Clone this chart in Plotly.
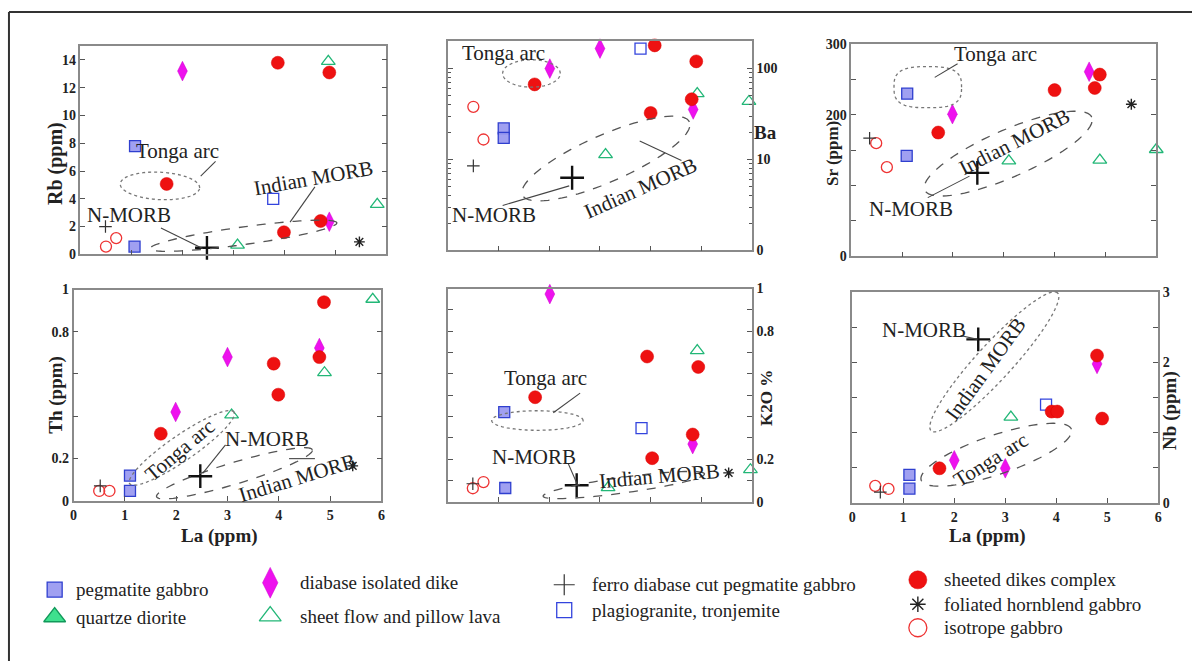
import math
import plotly.graph_objects as go

W, H = 1196, 669
SERIF = "Liberation Serif"

# ---------------- data (La in ppm on x; element on y; group code) ----------------
# groups: SD sheeted dikes, DI diabase dike, SF sheet flow/pillow lava, PG pegmatite gabbro,
#         PL plagiogranite, IG isotrope gabbro, FD ferro diabase, FH foliated hornblend gabbro, NM N-MORB
RB_LA  = [2.0, 3.87, 4.86, 4.88, 1.07, 1.69, 3.78, 5.82, 4.71, 4.88, 3.99, 0.49, 0.5, 0.7, 1.06, 3.08, 5.47, 2.48]
RB_VAL = [13.2, 13.8, 13.9, 13.1, 7.8, 5.07, 4.0, 3.6, 2.4, 2.35, 1.59, 2.0, 0.56, 1.17, 0.56, 0.66, 0.9, 0.47]
RB_GRP = ["DI", "SD", "SF", "SD", "PG", "SD", "PL", "SF", "SD", "DI", "SD", "FD", "IG", "IG", "PG", "SF", "FH", "NM"]

BA_LA  = [3.0, 3.8, 4.08, 4.9, 2.01, 1.71, 4.92, 5.94, 4.81, 4.84, 0.5, 4.0, 1.1, 1.1, 0.7, 3.11, 0.5, 2.45]
BA_VAL = [166, 166, 180, 120, 100, 67, 53, 43.5, 46, 35.5, 38, 32.5, 22, 17.3, 16.6, 11.3, 8.5, 6.3]
BA_GRP = ["DI", "PL", "SD", "SD", "DI", "SD", "SF", "SF", "SD", "DI", "IG", "SD", "PG", "PG", "IG", "SF", "FD", "NM"]

SR_LA  = [4.68, 4.89, 4.0, 4.79, 1.1, 5.51, 1.99, 1.71, 0.36, 0.49, 1.09, 3.1, 4.89, 6.0, 0.7, 2.48]
SR_VAL = [261, 257, 235, 238, 230, 215, 201, 175, 167, 160, 142, 135, 136, 151, 126, 118]
SR_GRP = ["DI", "SD", "SD", "SD", "PG", "FH", "DI", "SD", "FD", "IG", "PG", "SF", "SF", "SF", "IG", "NM"]

TH_LA  = [4.88, 5.83, 4.79, 3.0, 4.79, 3.9, 4.89, 3.99, 1.99, 3.08, 1.7, 1.1, 1.1, 5.44, 0.52, 0.5, 0.7, 2.47]
TH_VAL = [0.94, 0.954, 0.723, 0.68, 0.68, 0.649, 0.606, 0.502, 0.42, 0.406, 0.317, 0.119, 0.046, 0.165, 0.07, 0.046, 0.046, 0.116]
TH_GRP = ["SD", "SF", "DI", "DI", "SD", "SD", "SF", "SD", "DI", "SF", "SD", "PG", "PG", "FH", "FD", "IG", "IG", "NM"]

K2O_LA  = [2.01, 4.92, 3.93, 4.94, 1.72, 1.11, 3.82, 4.83, 4.83, 4.03, 5.97, 5.54, 0.49, 0.49, 0.7, 1.13, 3.16, 2.54]
K2O_VAL = [0.974, 0.709, 0.681, 0.632, 0.49, 0.42, 0.345, 0.315, 0.27, 0.204, 0.15, 0.135, 0.084, 0.063, 0.092, 0.064, 0.066, 0.077]
K2O_GRP = ["DI", "SF", "SD", "SD", "SD", "PG", "PL", "SD", "DI", "SD", "SF", "FH", "FD", "IG", "IG", "PG", "SF", "NM"]

NB_LA  = [4.8, 4.8, 3.8, 3.91, 4.02, 4.9, 3.11, 2.0, 3.0, 1.71, 1.12, 1.12, 0.45, 0.71, 0.55, 2.47]
NB_VAL = [2.10, 1.98, 1.40, 1.30, 1.30, 1.2, 1.22, 0.605, 0.49, 0.49, 0.395, 0.2, 0.24, 0.195, 0.15, 2.33]
NB_GRP = ["SD", "DI", "PL", "SD", "SD", "SD", "SF", "DI", "DI", "SD", "PG", "PG", "IG", "IG", "FD", "NM"]

LEGEND_CODES = ["PG", "SF_FILLED", "DI", "SF", "FD", "PL", "SD", "FH", "IG"]
LEGEND_LABELS = ["pegmatite gabbro", "quartze diorite", "diabase isolated dike", "sheet flow and pillow lava",
                 "ferro diabase cut pegmatite gabbro", "plagiogranite, tronjemite", "sheeted dikes complex",
                 "foliated hornblend gabbro", "isotrope gabbro"]

# ---------------- styles ----------------
STYLE = {
    "PG": dict(symbol="square", size=11, color="rgba(150,150,240,0.9)", line=dict(color="#2f3fcf", width=1.3)),
    "PL": dict(symbol="square-open", size=11, color="#3344dd", line=dict(color="#3344dd", width=1.3)),
    "SF": dict(symbol="triangle-up-open", size=12, color="#22b777", line=dict(color="#22b777", width=1.3)),
    "SF_FILLED": dict(symbol="triangle-up", size=12, color="#3ee08e", line=dict(color="#11995a", width=1.3)),
    "IG": dict(symbol="circle-open", size=11, color="#ee3333", line=dict(color="#ee3333", width=1.3)),
    "FD": dict(symbol="cross-thin", size=9, color="#333333", line=dict(color="#333333", width=1.2)),
    "FH": dict(symbol="asterisk", size=9, color="#222222", line=dict(color="#222222", width=1.4)),
    "DI": dict(symbol="diamond-tall", size=14, color="#ee11ee", line=dict(color="#cc00cc", width=0.5)),
    "SD": dict(symbol="circle", size=13, color="#ee1111", line=dict(color="#dd0000", width=0.5)),
    "NM": dict(symbol="cross-thin", size=17, color="#111111", line=dict(color="#111111", width=2.4)),
}
ORDER = ["PG", "PL", "SF", "IG", "FD", "FH", "DI", "SD", "NM"]

AX_LINE = "#8a8a8a"
TICK_FONT = dict(family=SERIF, size=14, color="#222222", weight="bold")

PANELS = [
    dict(la=RB_LA, val=RB_VAL, grp=RB_GRP, px=(77, 385), py=(40, 253)),
    dict(la=BA_LA, val=BA_VAL, grp=BA_GRP, px=(447, 753), py=(35, 249)),
    dict(la=SR_LA, val=SR_VAL, grp=SR_GRP, px=(853, 1160), py=(38, 255)),
    dict(la=TH_LA, val=TH_VAL, grp=TH_GRP, px=(70, 380), py=(289, 505)),
    dict(la=K2O_LA, val=K2O_VAL, grp=K2O_GRP, px=(447, 753), py=(288, 506)),
    dict(la=NB_LA, val=NB_VAL, grp=NB_GRP, px=(854, 1162), py=(292, 507)),
]

fig = go.Figure()

for i, p in enumerate(PANELS, start=1):
    xa = "x" if i == 1 else f"x{i}"
    ya = "y" if i == 1 else f"y{i}"
    for g in ORDER:
        xs = [x for x, gg in zip(p["la"], p["grp"]) if gg == g]
        ys = [y for y, gg in zip(p["val"], p["grp"]) if gg == g]
        if not xs:
            continue
        fig.add_trace(go.Scatter(x=xs, y=ys, mode="markers", marker=STYLE[g], xaxis=xa, yaxis=ya,
                                 showlegend=False, hoverinfo="x+y", cliponaxis=False))

# ---------------- axes ----------------
def base_axis():
    return dict(showline=True, linecolor=AX_LINE, linewidth=1.5, mirror=True, ticks="inside",
                ticklen=5, tickwidth=1.2, tickcolor="#555555", showgrid=False, zeroline=False,
                tickfont=TICK_FONT)

xt = list(range(0, 7))
layout = {}
for i, p in enumerate(PANELS, start=1):
    xk = "xaxis" if i == 1 else f"xaxis{i}"
    yk = "yaxis" if i == 1 else f"yaxis{i}"
    xa = base_axis()
    xa.update(domain=[p["px"][0] / W, p["px"][1] / W], range=[0, 6], tickvals=xt,
              showticklabels=(i in (4, 6)), anchor=("y" if i == 1 else f"y{i}"), ticklabelstandoff=1)
    ya = base_axis()
    ya.update(domain=[1 - p["py"][1] / H, 1 - p["py"][0] / H], anchor=("x" if i == 1 else f"x{i}"),
              mirror="ticks")
    layout[xk] = xa
    layout[yk] = ya

layout["yaxis"].update(range=[0, 15], tickvals=list(range(0, 15, 2)))
layout["yaxis2"].update(type="log", range=[0, math.log10(200)], tickvals=[1, 10, 100],
                        ticktext=["0", "10", "100"], side="right", mirror="allticks",
                        minor=dict(ticks="inside", ticklen=3, tickcolor="#555555",
                                   tickvals=[2, 3, 4, 5, 6, 7, 8, 9, 20, 30, 40, 50, 60, 70, 80, 90]))
layout["yaxis3"].update(range=[0, 300], tickvals=[0, 50, 100, 150, 200, 250, 300],
                        ticktext=["0", "", "", "", "200", "", "300"])
layout["yaxis4"].update(range=[0, 1], tickvals=[0, 0.2, 0.4, 0.6, 0.8, 1.0],
                        ticktext=["0", "0.2", "", "", "0.8", "1"])
layout["yaxis5"].update(range=[0, 1], tickvals=[k / 10 for k in range(11)],
                        ticktext=["0", "", "0.2", "", "", "", "", "", "0.8", "", "1"], side="right")
layout["yaxis6"].update(range=[0, 3], tickvals=[0, 0.5, 1, 1.5, 2, 2.5, 3],
                        ticktext=["0", "", "", "", "2", "", "3"], side="right")

# overlay axis in pixel units for the legend key
layout["xaxis7"] = dict(domain=[0, 1], range=[0, W], visible=False, fixedrange=True, anchor="y7")
layout["yaxis7"] = dict(domain=[0, 1], range=[H, 0], visible=False, fixedrange=True, anchor="x7")

# ---------------- legend (manual) ----------------
LEG_POS = [(51, 596), (51, 624), (268, 589), (268, 623), (564, 591), (564, 617), (920, 586), (920, 611), (920, 635)]
LEG_TEXT_X = [70, 70, 296, 296, 590, 590, 944, 944, 944]
LEG_SIZE = {"PG": 15, "SF_FILLED": 19, "DI": 22, "SF": 19, "FD": 15, "PL": 15, "SD": 18, "FH": 13, "IG": 18}
annotations = []
for code, lab, (lx, ly), tx in zip(LEGEND_CODES, LEGEND_LABELS, LEG_POS, LEG_TEXT_X):
    st = dict(STYLE[code])
    st["size"] = LEG_SIZE[code]
    fig.add_trace(go.Scatter(x=[lx], y=[ly], mode="markers", marker=st, xaxis="x7", yaxis="y7",
                             showlegend=False, hoverinfo="skip"))
    annotations.append(dict(text=lab, x=tx / W, y=1 - ly / H, xref="paper", yref="paper",
                            xanchor="left", yanchor="middle", showarrow=False,
                            font=dict(family=SERIF, size=19, color="#222222")))

# ---------------- field outlines, labels, leaders ----------------
def ellipse_path(cx, cy, a, b, ang, n=2, npts=90):
    t = math.radians(ang)
    pts = []
    for k in range(npts):
        th = 2 * math.pi * k / npts
        c, s = math.cos(th), math.sin(th)
        ex = a * math.copysign(abs(c) ** (2 / n), c)
        ey = b * math.copysign(abs(s) ** (2 / n), s)
        X = cx + ex * math.cos(t) - ey * math.sin(t)
        Y = cy - (ex * math.sin(t) + ey * math.cos(t))
        pts.append((X / W, 1 - Y / H))
    return "M " + " L ".join(f"{x:.5f},{y:.5f}" for x, y in pts) + " Z"

# (cx, cy, semi-major, semi-minor, angle, dash, exponent) in pixels
FIELDS = [
    (157, 183, 40, 14, -3, "dot", 2), (241, 234, 95, 9, 8, "dash", 2),
    (531, 68, 29, 14, 0, "dot", 2), (606, 155, 92, 24, 24, "dash", 2),
    (930, 82, 34, 21, 0, "dot", 3), (1011, 150, 92, 24, 24, "dash", 2),
    (179, 451, 64, 13, 35, "dot", 2), (232, 477, 82, 11, 17, "dash", 2),
    (537, 423, 46, 10, 0, "dot", 2), (624, 489, 82, 8, 8, "dash", 2),
    (997, 363, 95, 18, 48, "dot", 2), (999, 458, 80, 20, 19, "dash", 2),
]
LEADERS = [
    (198, 173, 213, 158), (313, 184, 288, 220), (158, 226, 200, 247),
    (640, 137, 682, 157), (502, 203, 569, 183),
    (937, 72, 960, 58), (930, 195, 972, 173),
    (223, 448, 200, 477), (287, 462, 313, 462),
    (580, 395, 553, 415), (568, 467, 577, 488),
    (963, 336, 980, 340),
]
LABELS = [
    ("Tonga arc", 175, 147, 0), ("Indian MORB", 312, 175, -10), ("N-MORB", 126, 213, 0),
    ("Tonga arc", 503, 47, 0), ("Indian MORB", 641, 185, -24), ("N-MORB", 493, 213, 0),
    ("Tonga arc", 998, 48, 0), ("Indian MORB", 1017, 138, -27), ("N-MORB", 913, 207, 0),
    ("Tonga arc", 177, 453, -40), ("N-MORB", 265, 442, 0), ("Indian MORB", 295, 482, -17),
    ("Tonga arc", 545, 379, 0), ("Indian MORB", 660, 480, -5), ("N-MORB", 534, 460, 0),
    ("N-MORB", 926, 330, 0), ("Indian MORB", 988, 370, -54), ("Tonga arc", 993, 463, -32),
]
# (text, x, y, angle, size)
TITLES = [
    ("Rb (ppm)", 52, 160, -90, 20), ("Ba", 767, 128, 0, 19), ("Sr (ppm)", 834, 150, -90, 17),
    ("Th (ppm)", 52, 397, -90, 19), ("La (ppm)", 217, 541, 0, 19), ("K2O %", 767, 400, -90, 17),
    ("Nb (ppm)", 1174, 413, -90, 19), ("La (ppm)", 990, 541, 0, 19),
]

shapes = []
for cx, cy, a, b, ang, dash, n in FIELDS:
    shapes.append(dict(type="path", path=ellipse_path(cx, cy, a, b, ang, n), xref="paper", yref="paper",
                       line=dict(color="#555555" if dash == "dash" else "#777777", width=1.3, dash=dash)))
for x0, y0, x1, y1 in LEADERS:
    shapes.append(dict(type="line", x0=x0 / W, y0=1 - y0 / H, x1=x1 / W, y1=1 - y1 / H,
                       xref="paper", yref="paper", line=dict(color="#444444", width=1.1)))
# outer frame (left and top edges)
shapes.append(dict(type="line", x0=5 / W, y0=0, x1=5 / W, y1=1 - 5 / H, xref="paper", yref="paper",
                   line=dict(color="#333333", width=2)))
shapes.append(dict(type="line", x0=5 / W, y0=1 - 5 / H, x1=1, y1=1 - 5 / H, xref="paper", yref="paper",
                   line=dict(color="#333333", width=2)))

for txt, x, y, ang in LABELS:
    annotations.append(dict(text=txt, x=x / W, y=1 - y / H, xref="paper", yref="paper", textangle=ang,
                            xanchor="center", yanchor="middle", showarrow=False,
                            font=dict(family=SERIF, size=21, color="#222222")))
for txt, x, y, ang, sz in TITLES:
    annotations.append(dict(text=txt, x=x / W, y=1 - y / H, xref="paper", yref="paper", textangle=ang,
                            xanchor="center", yanchor="middle", showarrow=False,
                            font=dict(family=SERIF, size=sz, color="#222222", weight="bold")))

fig.update_layout(width=W, height=H, margin=dict(l=0, r=0, t=0, b=0), paper_bgcolor="white",
                  plot_bgcolor="rgba(0,0,0,0)", showlegend=False, shapes=shapes, annotations=annotations,
                  font=dict(family=SERIF), **layout)

fig.write_html("out.html", config={"displayModeBar": False},
               post_script="document.body.style.margin='0px';document.body.style.overflow='hidden';")
